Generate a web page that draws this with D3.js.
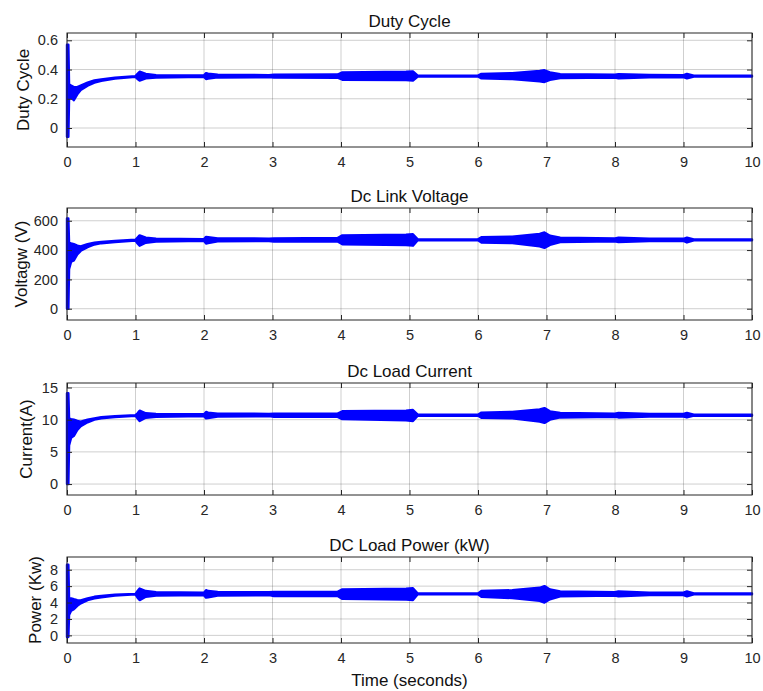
<!DOCTYPE html>
<html>
<head>
<meta charset="utf-8">
<script src="https://cdn.jsdelivr.net/npm/d3@7"></script>
<style>
  body { margin: 0; background: #fff; }
  svg { display: block; font-family: "Liberation Sans", Arial, sans-serif; }
</style>
</head>
<body>
<svg width="763" height="691"></svg>
<script>
// time knots (seconds) shared by every panel
var timeKnots = [0, 0.02, 0.03, 0.06, 0.1, 0.15, 0.2, 0.3, 0.4, 0.5,
  0.7, 1.0, 1.03, 1.06, 1.15, 1.3, 2.0, 2.03, 2.06, 2.2,
  2.95, 3.02, 3.95, 4.02, 4.95, 5.05, 5.12, 6.0, 6.05, 6.5,
  6.9, 6.97, 7.05, 7.2, 8.0, 8.05, 8.5, 9.0, 9.05, 9.15, 10];

// upper / lower envelope of the oscillating trace
var dutyHi = [0.57, 0.57, 0.30, 0.29, 0.28, 0.28, 0.29, 0.31, 0.325, 0.333,
  0.345, 0.355, 0.37, 0.385, 0.37, 0.362, 0.36, 0.375, 0.372, 0.364,
  0.362, 0.365, 0.366, 0.38, 0.385, 0.387, 0.358, 0.358, 0.37, 0.375,
  0.39, 0.395, 0.38, 0.368, 0.365, 0.368, 0.363, 0.362, 0.37, 0.358, 0.358];
var dutyLo = [-0.06, -0.06, 0.20, 0.21, 0.19, 0.23, 0.26, 0.29, 0.31, 0.323,
  0.338, 0.35, 0.335, 0.325, 0.34, 0.345, 0.35, 0.335, 0.338, 0.346,
  0.348, 0.345, 0.344, 0.33, 0.328, 0.325, 0.352, 0.352, 0.34, 0.335,
  0.32, 0.315, 0.33, 0.342, 0.345, 0.34, 0.347, 0.348, 0.34, 0.352, 0.352];

var voltHi = [615, 615, 450, 445, 440, 430, 425, 440, 450, 455,
  462, 470, 485, 500, 485, 478, 475, 490, 488, 480,
  478, 480, 482, 500, 505, 508, 473, 473, 488, 492,
  510, 520, 498, 485, 480, 484, 478, 477, 485, 473, 473];
var voltLo = [0, 0, 270, 320, 330, 370, 395, 420, 438, 447,
  455, 465, 445, 430, 450, 458, 463, 445, 448, 460,
  462, 458, 458, 440, 435, 430, 467, 467, 452, 448,
  425, 415, 435, 455, 460, 455, 462, 463, 452, 467, 467];

var currHi = [14.1, 14.1, 10.2, 10.1, 10.0, 9.8, 9.7, 10.0, 10.2, 10.4,
  10.55, 10.7, 11.0, 11.4, 11.0, 10.9, 10.85, 11.2, 11.1, 10.95,
  10.9, 10.95, 10.95, 11.3, 11.4, 11.5, 10.78, 10.78, 11.1, 11.2,
  11.6, 11.8, 11.3, 11.05, 10.95, 11.05, 10.9, 10.9, 11.05, 10.78, 10.78];
var currLo = [0, 0, 6.0, 7.2, 7.5, 8.4, 9.0, 9.6, 10.0, 10.2,
  10.4, 10.6, 10.2, 9.8, 10.3, 10.45, 10.55, 10.2, 10.25, 10.5,
  10.55, 10.45, 10.45, 10.1, 9.9, 9.8, 10.62, 10.62, 10.3, 10.2,
  9.7, 9.5, 10.0, 10.35, 10.45, 10.35, 10.5, 10.5, 10.35, 10.62, 10.62];

var powHi = [8.6, 8.6, 4.5, 4.5, 4.4, 4.3, 4.25, 4.5, 4.7, 4.8,
  4.95, 5.05, 5.4, 5.7, 5.4, 5.25, 5.2, 5.5, 5.4, 5.3,
  5.25, 5.3, 5.3, 5.6, 5.7, 5.75, 5.1, 5.1, 5.4, 5.5,
  5.8, 6.0, 5.6, 5.35, 5.25, 5.35, 5.2, 5.2, 5.35, 5.1, 5.1];
var powLo = [-0.2, -0.2, 2.5, 3.0, 3.2, 3.6, 3.9, 4.3, 4.5, 4.65,
  4.85, 5.0, 4.6, 4.3, 4.7, 4.85, 4.9, 4.6, 4.65, 4.85,
  4.9, 4.8, 4.8, 4.45, 4.35, 4.3, 5.0, 5.0, 4.7, 4.55,
  4.2, 4.0, 4.4, 4.75, 4.85, 4.75, 4.9, 4.9, 4.75, 5.0, 5.0];

var titles = ["Duty Cycle", "Dc Link Voltage", "Dc Load Current", "DC Load Power (kW)"];
var yLabels = ["Duty Cycle", "Voltagw (V)", "Current(A)", "Power (Kw)"];
var xTicks = [0, 1, 2, 3, 4, 5, 6, 7, 8, 9, 10];
var yTicks = [[0, 0.2, 0.4, 0.6], [0, 200, 400, 600], [0, 5, 10, 15], [0, 2, 4, 6, 8]];
var yLimits = [[-0.13, 0.65], [-77, 687], [-1.7, 15.7], [-0.93, 9.55]];

var svg = d3.select("svg");

// panel boxes
var left = 67, right = 752;
var tops = [33, 208, 383, 557],
    bottoms = [147, 320, 495, 643],
    labelX = [29, 27, 32, 41];

var series = [[dutyHi, dutyLo], [voltHi, voltLo], [currHi, currLo], [powHi, powLo]];
var ink = "#262626";

var x = d3.scaleLinear().domain([0, 10]).range([left, right]);

series.forEach(function(s, i) {
  var top = tops[i], bottom = bottoms[i];
  var y = d3.scaleLinear().domain(yLimits[i]).range([bottom, top]);
  var g = svg.append("g");

  // white plot background
  g.append("rect").attr("x", left).attr("y", top)
    .attr("width", right - left).attr("height", bottom - top).attr("fill", "#fff");

  // grid
  g.selectAll(".vgrid").data(xTicks).enter().append("line")
    .attr("x1", x).attr("x2", x).attr("y1", top).attr("y2", bottom)
    .attr("stroke", ink).attr("stroke-opacity", 0.22).attr("stroke-width", 1);
  g.selectAll(".hgrid").data(yTicks[i]).enter().append("line")
    .attr("y1", y).attr("y2", y).attr("x1", left).attr("x2", right)
    .attr("stroke", ink).attr("stroke-opacity", 0.22).attr("stroke-width", 1);

  // trace
  var pts = timeKnots.map(function(t, k) { return {t: t, hi: s[0][k], lo: s[1][k]}; });
  var area = d3.area()
    .x(function(d) { return x(d.t); })
    .y0(function(d) { return y(d.lo); })
    .y1(function(d) { return y(d.hi); });
  g.append("path").datum(pts)
    .attr("d", area)
    .attr("fill", "#0000ff")
    .attr("stroke", "#0000ff")
    .attr("stroke-width", 2.4)
    .attr("stroke-linejoin", "round");

  // axes (inward ticks)
  var tickLen = 5;
  g.append("g").attr("transform", "translate(0," + bottom + ")")
    .call(d3.axisBottom(x).tickValues(xTicks).tickSizeInner(-tickLen).tickSizeOuter(0).tickPadding(10).tickFormat(d3.format("d")));
  g.append("g").attr("transform", "translate(0," + top + ")")
    .call(d3.axisTop(x).tickValues(xTicks).tickSizeInner(-tickLen).tickSizeOuter(0).tickFormat(""));
  g.append("g").attr("transform", "translate(" + left + ",0)")
    .call(d3.axisLeft(y).tickValues(yTicks[i]).tickSizeInner(-tickLen).tickSizeOuter(0).tickPadding(9).tickFormat(d3.format("~g")));
  g.append("g").attr("transform", "translate(" + right + ",0)")
    .call(d3.axisRight(y).tickValues(yTicks[i]).tickSizeInner(-tickLen).tickSizeOuter(0).tickFormat(""));

  g.selectAll(".domain").remove();
  g.selectAll(".tick line").attr("stroke", ink);
  g.selectAll(".tick text").attr("fill", ink).style("font-size", "14.5px")
    .style("font-family", "Liberation Sans, Arial, sans-serif");

  // box
  g.append("rect").attr("x", left).attr("y", top)
    .attr("width", right - left).attr("height", bottom - top)
    .attr("fill", "none").attr("stroke", ink).attr("stroke-width", 1);

  // title
  g.append("text").attr("x", (left + right) / 2).attr("y", top - 6)
    .attr("text-anchor", "middle").attr("fill", "#111").style("font-size", "17px")
    .text(titles[i]);

  // y label
  g.append("text")
    .attr("transform", "translate(" + labelX[i] + "," + ((top + bottom) / 2) + ") rotate(-90)")
    .attr("text-anchor", "middle").attr("fill", "#111").style("font-size", "17px")
    .text(yLabels[i]);
});

svg.append("text").attr("x", (left + right) / 2).attr("y", 686)
  .attr("text-anchor", "middle").attr("fill", "#111").style("font-size", "17px")
  .text("Time (seconds)");
</script>
</body>
</html>
